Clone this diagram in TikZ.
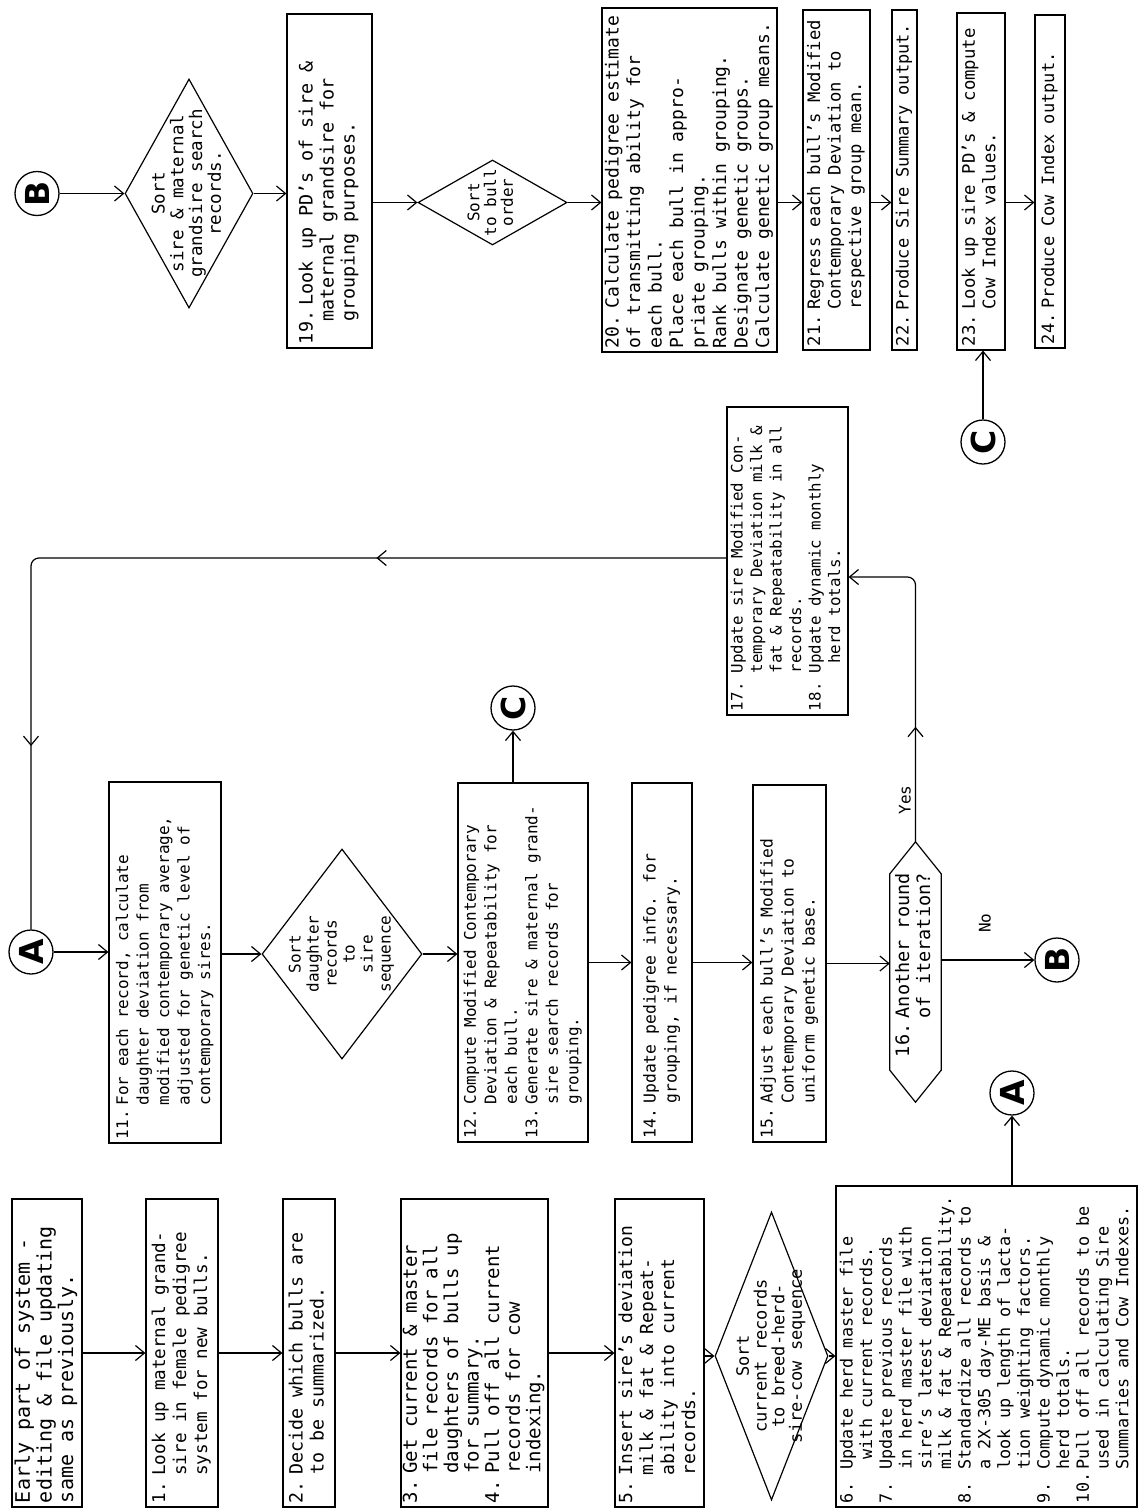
\documentclass[tikz,border=0pt]{standalone}
\usepackage{fontspec}
\setmainfont{DejaVu Sans Mono}
\newfontfamily\circfont{DejaVu Sans}
\usetikzlibrary{arrows.meta,shapes.geometric,decorations.markings,calc}
\newcommand\stepno[2][2.1em]{\makebox[#1][l]{#2}}
\newcommand\stepin[1][2.1em]{\hspace*{#1}}
\tikzset{
  box/.style={draw, rectangle, line width=1.2pt, inner sep=0pt},
  dia/.style={draw, diamond, line width=1.2pt, inner sep=0pt},
  dtext/.style={inner sep=0pt},
  conn/.style={draw, circle, line width=1.3pt, minimum size=44pt, inner sep=0pt,
    font=\circfont\bfseries\fontsize{33}{33}\selectfont},
  lbl/.style={inner sep=0pt, font=\fontsize{16}{18}\selectfont},
  arr/.style={-{Straight Barb[length=9pt,width=15pt]}, line width=1.2pt},
  plain/.style={line width=1.2pt},
  midarr/.style={postaction={decorate,decoration={markings,
    mark=at position #1 with {\arrow{Straight Barb[length=9pt,width=15pt]}}}}}
}
% name, x1, y1, x2, y2, {size}{skip}, content
\newcommand\bx[7]{%
  \node[box, minimum width={(#4-#2)*1pt}, minimum height={(#5-#3)*1pt},
        font=\fontsize#6\selectfont] (#1) at ({(#2+#4)/2},{(#3+#5)/2})
  {\rotatebox{90}{\makebox[\dimexpr #5pt-#3pt-8pt\relax][l]{\begin{tabular}{@{}l@{}}#7\end{tabular}}}};}
\begin{document}
\begin{tikzpicture}[x=1pt,y=-1pt]
\fill[white] (0,0) rectangle (1139,1510);
\useasboundingbox (0,0) rectangle (1139,1510);

% ---------- bottom row ----------
\bx{b0}{12}{1199}{82}{1507}{{20}{21}}{Early part of system -\\ editing \& file updating\\ same as previously.}
\bx{b1}{146}{1199}{218}{1507}{{17.6}{21}}{\stepno[1.55em]{1.}Look up maternal grand-\\ \stepin[1.55em]sire in female pedigree\\ \stepin[1.55em]system for new bulls.}
\bx{b2}{283}{1199}{335}{1507}{{18.3}{21}}{\stepno[1.55em]{2.}Decide which bulls are\\ \stepin[1.55em]to be summarized.}
\bx{b3}{401}{1199}{548}{1507}{{19}{20.3}}{\stepno[1.55em]{3.}Get current \& master\\ \stepin[1.55em]file records for all\\ \stepin[1.55em]daughters of bulls up\\ \stepin[1.55em]for summary.\\ \stepno[1.55em]{4.}Pull off all current\\ \stepin[1.55em]records for cow\\ \stepin[1.55em]indexing.}
\bx{b5}{615}{1199}{704}{1507}{{18}{21}}{\stepno[1.55em]{5.}Insert sire's deviation\\ \stepin[1.55em]milk \& fat \& Repeat-\\ \stepin[1.55em]ability into current\\ \stepin[1.55em]records.}
\node[dia, minimum width=113pt, minimum height=288pt] (d2) at (771.5,1356) {};
\node[dtext, font=\fontsize{17}{16}\selectfont] (d2t) at (d2) {\rotatebox{90}{\begin{tabular}{@{}c@{}}Sort\\ current records\\ to breed-herd-\\ sire-cow sequence\end{tabular}}};
\bx{b6}{836}{1186}{1137}{1507}{{16.8}{19.7}}{\stepno[2em]{6.}Update herd master file\\ \stepin[2.6em]with current records.\\ \stepno[2em]{7.}Update previous records\\ \stepin[2em]in herd master file with\\ \stepin[2em]sire's latest deviation\\ \stepin[2em]milk \& fat \& Repeatability.\\ \stepno[2em]{8.}Standardize all records to\\ \stepin[2em]a 2X-305 day-ME basis \&\\ \stepin[2em]look up length of lacta-\\ \stepin[2em]tion weighting factors.\\ \stepno[2em]{9.}Compute dynamic monthly\\ \stepin[2em]herd totals.\\ \stepno[2em]{10.}Pull off all records to be\\ \stepin[2em]used in calculating Sire\\ \stepin[2em]Summaries and Cow Indexes.}

% ---------- middle row ----------
\node[conn] (A1) at (31,952) {\rotatebox{90}{A}};
\bx{b11}{109}{782}{221}{1143}{{16}{20.5}}{\stepno{11.}For each record, calculate\\ \stepin daughter deviation from\\ \stepin modified contemporary average,\\ \stepin adjusted for genetic level of\\ \stepin contemporary sires.}
\node[dia, minimum width=160pt, minimum height=210pt] (d1) at (342,954) {};
\node[dtext, font=\fontsize{16}{18}\selectfont] (d1t) at (d1) {\rotatebox{90}{\begin{tabular}{@{}c@{}}Sort\\ daughter\\ records\\ to\\ sire\\ sequence\end{tabular}}};
\bx{b12}{458}{783}{588}{1142}{{16}{20.5}}{\stepno{12.}Compute Modified Contemporary\\ \stepin Deviation \& Repeatability for\\ \stepin each bull.\\ \stepno{13.}Generate sire \& maternal grand-\\ \stepin sire search records for\\ \stepin grouping.}
\node[conn] (C1) at (513,708) {\rotatebox{90}{C}};
\bx{b14}{632}{783}{692}{1142}{{16.4}{21}}{\stepno{14.}Update pedigree info. for\\ \stepin grouping, if necessary.}
\bx{b15}{753}{785}{826}{1142}{{16.3}{21}}{\stepno{15.}Adjust each bull's Modified\\ \stepin Contemporary Deviation to\\ \stepin uniform genetic base.}
\node[inner sep=0pt, minimum width=51pt, minimum height=260pt, font=\fontsize{18.5}{21}\selectfont] (hex) at (915.5,972)
  {\rotatebox{90}{\makebox[170pt][l]{\begin{tabular}{@{}l@{}}\stepno{16.}Another round\\ \stepin of iteration?\end{tabular}}}};
\draw[plain] (hex.north) -- ([yshift=-32pt]hex.north east) -- ([yshift=32pt]hex.south east)
  -- (hex.south) -- ([yshift=32pt]hex.south west) -- ([yshift=-32pt]hex.north west) -- cycle;
\node[conn] (B1) at (1057,960) {\rotatebox{90}{B}};
\node[conn] (A2) at (1012,1093) {\rotatebox{90}{A}};
\node[lbl] (yes) at (905,800) {\rotatebox{90}{Yes}};
\node[lbl] (no) at (985,923) {\rotatebox{90}{No}};
\bx{b17}{727}{407}{848}{715}{{15.8}{19.5}}{\stepno[2.4em]{17.}Update sire Modified Con-\\ \stepin[2.4em]temporary Deviation milk \&\\ \stepin[2.4em]fat \& Repeatability in all\\ \stepin[2.4em]records.\\ \stepno[2.4em]{18.}Update dynamic monthly\\ \stepin[3em]herd totals.}

% ---------- top row ----------
\node[conn] (B2) at (37,193.5) {\rotatebox{90}{B}};
\node[dia, minimum width=128pt, minimum height=229pt] (d3) at (189,193.5) {};
\node[dtext, font=\fontsize{17.5}{18}\selectfont] (d3t) at (d3) {\rotatebox{90}{\begin{tabular}{@{}c@{}}Sort\\ sire \& maternal\\ grandsire search\\ records.\end{tabular}}};
\bx{b19}{287}{14}{372}{348}{{18.4}{21}}{\stepno{19.}Look up PD's of sire \&\\ \stepin[1.2em]maternal grandsire for\\ \stepin[1.2em]grouping purposes.}
\node[dia, minimum width=149pt, minimum height=85pt] (d4) at (492.5,202.5) {};
\node[dtext, font=\fontsize{16}{15}\selectfont] (d4t) at (d4) {\rotatebox{90}{\begin{tabular}{@{}c@{}}Sort\\ to bull\\ order\end{tabular}}};
\bx{b20}{602}{8}{777}{352}{{18}{21.5}}{\stepno[2.2em]{20.}Calculate pedigree estimate\\ of transmitting ability for\\ each bull.\\ Place each bull in appro-\\ priate grouping.\\ Rank bulls within grouping.\\ Designate genetic groups.\\ Calculate genetic group means.}
\bx{b21}{803}{10}{870}{350}{{17.2}{20.5}}{\stepno{21.}Regress each bull's Modified\\ \stepin Contemporary Deviation to\\ \stepin respective group mean.}
\bx{b22}{892}{10}{917}{350}{{17}{20}}{\stepno{22.}Produce Sire Summary output.}
\bx{b23}{957}{13}{1005}{350}{{17.3}{20.5}}{\stepno{23.}Look up sire PD's \& compute\\ \stepin Cow Index values.}
\bx{b24}{1035}{15}{1065}{348}{{17}{20}}{\stepno{24.}Produce Cow Index output.}
\node[conn] (C2) at (983,442) {\rotatebox{90}{C}};

\coordinate (yesc) at (915.5,577);
\coordinate (loopc) at (31,558);

% ---------- connectors ----------
\draw[arr] (b0.east) -- (b0.east -| b1.west);
\draw[arr] (b1.east) -- (b1.east -| b2.west);
\draw[arr] (b2.east) -- (b2.east -| b3.west);
\draw[arr] (b3.east) -- (b3.east -| b5.west);
\draw[arr] (b5.east |- d2.west) -- (d2.west);
\draw[arr] (d2.east) -- (d2.east -| b6.west);
\draw[arr] (b6.north -| A2) -- (A2.south);

\draw[arr] (A1.east) -- (A1.east -| b11.west);
\draw[arr] (b11.east |- d1.west) -- (d1.west);
\draw[arr] (d1.east) -- (d1.east -| b12.west);
\draw[arr] (b12.north -| C1) -- (C1.south);
\draw[arr] (b12.east) -- (b12.east -| b14.west);
\draw[arr] (b14.east) -- (b14.east -| b15.west);
\draw[arr] (b15.east) -- (b15.east -| hex.west);
\draw[arr] (hex.east |- B1) -- (B1.west);
\draw[arr, rounded corners=8pt, midarr=115pt] (hex.north) -- (yesc) -- (yesc -| b17.east);
\draw[plain, rounded corners=8pt, midarr=350pt, midarr=880pt] (b17.west |- loopc) -- (loopc) -- (A1.north);

\draw[arr] (B2.east) -- (d3.west);
\draw[arr] (d3.east) -- (d3.east -| b19.west);
\draw[arr] (b19.east |- d4.west) -- (d4.west);
\draw[arr] (d4.east) -- (d4.east -| b20.west);
\draw[arr] (b20.east |- d4) -- (b21.west |- d4);
\draw[arr] (b21.east |- d4) -- (b22.west |- d4);
\draw[arr] (b23.east |- d4) -- (b24.west |- d4);
\draw[arr] (C2.north) -- (C2.north |- b23.south);
\end{tikzpicture}
\end{document}
